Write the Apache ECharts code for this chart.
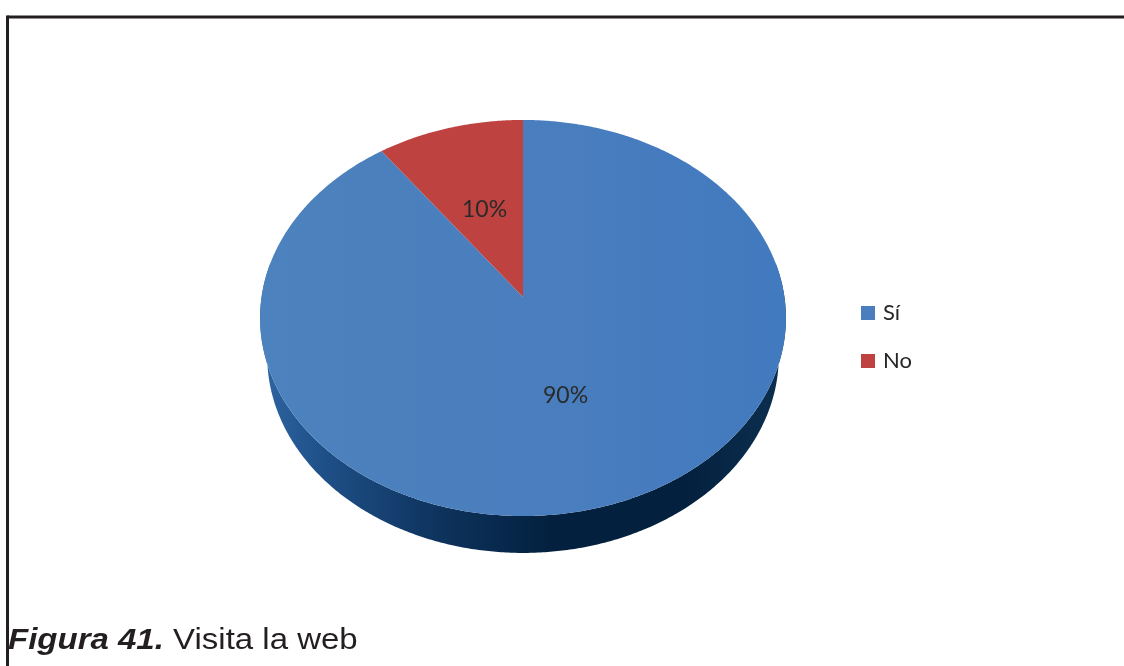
<!DOCTYPE html>
<html>
<head>
<meta charset="utf-8">
<script src="https://cdn.jsdelivr.net/npm/echarts@6/dist/echarts.min.js"></script>
<style>
html,body{margin:0;padding:0;background:#fff;}
#chart{width:1124px;height:666px;}
</style>
</head>
<body>
<div id="chart"></div>
<script>
// ---- data ----
const categories = ['Sí', 'No'];
const values = [90, 10];
const labels = ['90%', '10%'];
const captionBold = 'Figura 41.';
const captionText = ' Visita la web';

// ---- style / geometry ----
const topColors = ['#4a7ebe', '#be4340'];
const CX = 523, CY = 297, F = 1634, D = 6.25, SA = 0.749, CA = 0.663, T = 0.231;
const DEG = Math.PI / 180;

function proj(theta, r, y) {
  const X = r * Math.sin(theta * DEG), Z = r * Math.cos(theta * DEG);
  const yc = y * CA + Z * SA;
  const depth = D + Z * CA - y * SA;
  return [CX + F * X / depth, CY - F * yc / depth];
}

const total = values.reduce((a, b) => a + b, 0);
const starts = [];
let acc = 0;
values.forEach(v => { starts.push(acc / total * 360); acc += v; });

const sideGradient = {
  type: 'linear', x: 258, y: 0, x2: 788, y2: 0, global: true,
  colorStops: [
    { offset: 0, color: '#2f66a3' },
    { offset: 0.12, color: '#1f5088' },
    { offset: 0.35, color: '#0d325c' },
    { offset: 0.55, color: '#03213f' },
    { offset: 0.8, color: '#03203e' },
    { offset: 1, color: '#0d3050' }
  ]
};
const blueTopGradient = {
  type: 'linear', x: 260, y: 0, x2: 786, y2: 0, global: true,
  colorStops: [
    { offset: 0, color: '#4c82bd' },
    { offset: 0.5, color: '#4a7ebe' },
    { offset: 1, color: '#427abf' }
  ]
};

function makeRender(idx) {
  return function (params, api) {
    const v = api.value(0);
    const a1 = starts[idx];
    const a2 = a1 + v / total * 360;
    const children = [];
    // side (front part only)
    const s1 = Math.max(a1, 80), s2 = Math.min(a2, 280);
    if (s2 > s1) {
      const pts = [];
      for (let t = s1; t <= s2 + 1e-6; t += 0.5) pts.push(proj(t, 1, 0));
      for (let t = s2; t >= s1 - 1e-6; t -= 0.5) pts.push(proj(t, 1, -T));
      children.push({ type: 'polygon', z2: 1, shape: { points: pts },
        style: { fill: sideGradient, stroke: null } });
    }
    // top face
    const top = [proj(0, 0, 0)];
    for (let t = a1; t <= a2 + 1e-6; t += 0.5) top.push(proj(t, 1, 0));
    top.push(proj(a2, 1, 0));
    children.push({ type: 'polygon', z2: 2, shape: { points: top },
      style: { fill: idx === 0 ? blueTopGradient : topColors[idx], stroke: null } });
    // label
    const mid = (a1 + a2) / 2;
    const lp = proj(mid, 0.5, 0);
    children.push({ type: 'text', z2: 10, x: lp[0], y: lp[1] + 1,
      style: { text: labels[idx], align: 'center', verticalAlign: 'middle',
        fill: '#2a2a2a', fontSize: 23, fontFamily: 'Lato' } });
    return { type: 'group', children: children };
  };
}

const series = categories.map((c, i) => ({
  type: 'custom',
  name: c,
  coordinateSystem: 'none',
  itemStyle: { color: topColors[i] },
  data: [[values[i]]],
  renderItem: makeRender(i),
  silent: true
}));

const chart = echarts.init(document.getElementById('chart'), null, { renderer: 'canvas' });
chart.setOption({
  animation: false,
  backgroundColor: '#ffffff',
  legend: {
    data: categories,
    orient: 'vertical',
    left: 856,
    top: 296,
    itemWidth: 14,
    itemHeight: 14,
    itemGap: 24,
    icon: 'rect',
    selectedMode: false,
    textStyle: { fontSize: 22, lineHeight: 24, color: '#262626', fontFamily: 'Lato', padding: [0, 0, 0, 3] }
  },
  graphic: [
    { type: 'line', shape: { x1: 7.5, y1: 17, x2: 1124, y2: 17 }, style: { stroke: '#231f20', lineWidth: 3 } },
    { type: 'line', shape: { x1: 7.5, y1: 15.5, x2: 7.5, y2: 666 }, style: { stroke: '#231f20', lineWidth: 3 } },
    { type: 'text', x: 8, y: 626, scaleX: 1.1, originX: 0, originY: 0,
      style: { text: '{b|' + captionBold + '}{r|' + captionText + '}',
        rich: {
          b: { fontFamily: 'Liberation Sans', fontWeight: 'bold', fontStyle: 'italic', fontSize: 30, fill: '#231f20' },
          r: { fontFamily: 'Liberation Sans', fontSize: 30, fill: '#231f20' }
        } } }
  ],
  series: series
});
</script>
</body>
</html>
